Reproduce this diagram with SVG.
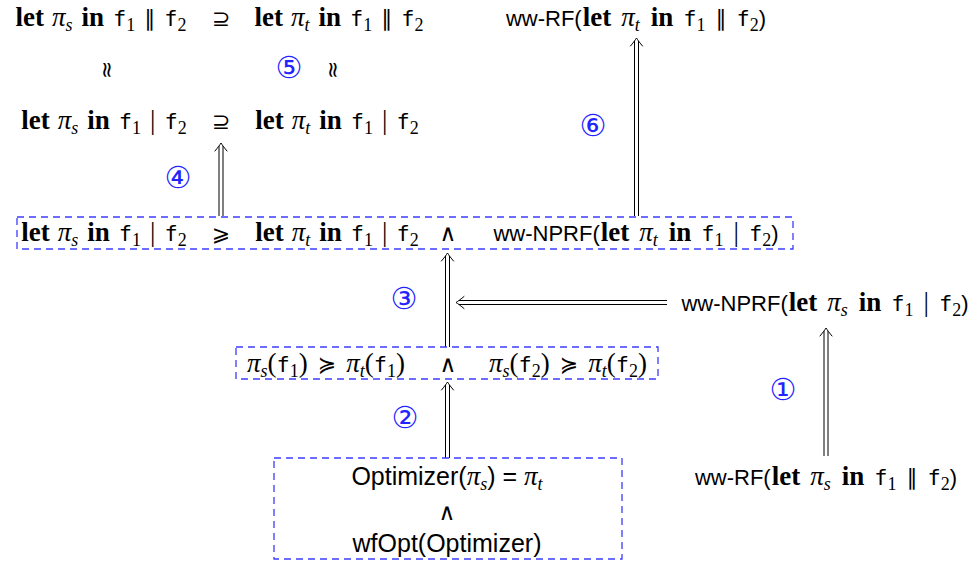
<svg xmlns="http://www.w3.org/2000/svg" width="979" height="565" viewBox="0 0 979 565">
<style>
text { font-family: "Liberation Serif", serif; font-size: 27px; fill: #000; }
.kw { font-weight: bold; }
.pi { font-style: italic; }
.tt { font-family: "DejaVu Sans Mono", monospace; font-size: 22px; }
.sf { font-family: "Liberation Sans", sans-serif; font-size: 25px; }
.sfw { font-family: "Liberation Sans", sans-serif; font-size: 22px; }
.sub { font-size: 18px; }
.sym { font-family: "DejaVu Sans", sans-serif; font-size: 22px; }
.and { font-family: "DejaVu Serif", serif; font-size: 23px; }
.num { font-family: "DejaVu Sans", "Noto Sans CJK SC", sans-serif; font-size: 30px; fill: #2323ff; }
.box { fill: none; stroke: #3c3cff; stroke-width: 1.3; stroke-dasharray: 7 5; }
.ln { stroke: #000; stroke-width: 1; fill: none; }
.hd { stroke: #000; stroke-width: 1; fill: none; stroke-linecap: round; }
</style>
<defs>
<path id="hu" class="hd" d="M-6,8 C-3.5,5 -1.2,2 0,0 C1.2,2 3.5,5 6,8"/>
</defs>

<g id="connectors">
  <line class="ln" x1="219" y1="216" x2="219" y2="146"/>
  <line class="ln" x1="223" y1="216" x2="223" y2="146"/>
  <use href="#hu" x="221" y="143"/>
  <line class="ln" x1="634.5" y1="216" x2="634.5" y2="41"/>
  <line class="ln" x1="638.5" y1="216" x2="638.5" y2="41"/>
  <use href="#hu" x="636.5" y="38"/>
  <line class="ln" x1="445.5" y1="347" x2="445.5" y2="256"/>
  <line class="ln" x1="449.5" y1="347" x2="449.5" y2="256"/>
  <use href="#hu" x="447.5" y="253"/>
  <line class="ln" x1="667" y1="300.5" x2="459" y2="300.5"/>
  <line class="ln" x1="667" y1="304.5" x2="459" y2="304.5"/>
  <use href="#hu" transform="translate(456,302.5) rotate(-90)"/>
  <line class="ln" x1="445.5" y1="458" x2="445.5" y2="385"/>
  <line class="ln" x1="449.5" y1="458" x2="449.5" y2="385"/>
  <use href="#hu" x="447.5" y="382"/>
  <line class="ln" x1="824" y1="456" x2="824" y2="331"/>
  <line class="ln" x1="828" y1="456" x2="828" y2="331"/>
  <use href="#hu" x="826" y="328"/>
</g>

<g id="labels">
  <text class="num" x="289" y="78" text-anchor="middle">⑤</text>
  <text class="num" x="593" y="136" text-anchor="middle">⑥</text>
  <text class="num" x="178" y="188" text-anchor="middle">④</text>
  <text class="num" x="404" y="309" text-anchor="middle">③</text>
  <text class="num" x="405" y="428" text-anchor="middle">②</text>
  <text class="num" x="783" y="400" text-anchor="middle">①</text>
</g>

<g id="top-left">
  <text x="101" y="26" text-anchor="middle"><tspan class="kw">let</tspan><tspan class="pi" dx="8">π</tspan><tspan class="pi sub" dy="5">s</tspan><tspan class="kw" dx="9" dy="-5">in</tspan><tspan class="tt" dx="9">f</tspan><tspan class="sub" dy="5">1</tspan><tspan class="sym" dx="9" dy="-5">∥</tspan><tspan class="tt" dx="9">f</tspan><tspan class="sub" dy="5">2</tspan></text>
  <text x="221" y="26" class="sym" text-anchor="middle">⊇</text>
  <text x="339" y="26" text-anchor="middle"><tspan class="kw">let</tspan><tspan class="pi" dx="8">π</tspan><tspan class="pi sub" dy="5">t</tspan><tspan class="kw" dx="9" dy="-5">in</tspan><tspan class="tt" dx="9">f</tspan><tspan class="sub" dy="5">1</tspan><tspan class="sym" dx="9" dy="-5">∥</tspan><tspan class="tt" dx="9">f</tspan><tspan class="sub" dy="5">2</tspan></text>
  <text class="sym" transform="translate(107,70) rotate(90)" text-anchor="middle" y="7">≈</text>
  <text class="sym" transform="translate(333,70) rotate(90)" text-anchor="middle" y="7">≈</text>
  <text x="104" y="129" text-anchor="middle"><tspan class="kw">let</tspan><tspan class="pi" dx="8">π</tspan><tspan class="pi sub" dy="5">s</tspan><tspan class="kw" dx="9" dy="-5">in</tspan><tspan class="tt" dx="9">f</tspan><tspan class="sub" dy="5">1</tspan><tspan dx="9" dy="-5">|</tspan><tspan class="tt" dx="9">f</tspan><tspan class="sub" dy="5">2</tspan></text>
  <text x="221" y="129" class="sym" text-anchor="middle">⊇</text>
  <text x="337" y="129" text-anchor="middle"><tspan class="kw">let</tspan><tspan class="pi" dx="8">π</tspan><tspan class="pi sub" dy="5">t</tspan><tspan class="kw" dx="9" dy="-5">in</tspan><tspan class="tt" dx="9">f</tspan><tspan class="sub" dy="5">1</tspan><tspan dx="9" dy="-5">|</tspan><tspan class="tt" dx="9">f</tspan><tspan class="sub" dy="5">2</tspan></text>
</g>

<g id="top-right">
  <text x="636" y="26" text-anchor="middle"><tspan class="sfw">ww-RF(</tspan><tspan class="kw" dx="1">let</tspan><tspan class="pi" dx="10">π</tspan><tspan class="pi sub" dy="5">t</tspan><tspan class="kw" dx="11" dy="-5">in</tspan><tspan class="tt" dx="10">f</tspan><tspan class="sub" dy="5">1</tspan><tspan class="sym" dx="10" dy="-5">∥</tspan><tspan class="tt" dx="10">f</tspan><tspan class="sub" dy="5">2</tspan><tspan class="sfw" dy="-5">)</tspan></text>
</g>

<g id="box1">
  <rect class="box" x="17" y="217" width="776" height="32"/>
  <text x="104" y="241" text-anchor="middle"><tspan class="kw">let</tspan><tspan class="pi" dx="8">π</tspan><tspan class="pi sub" dy="5">s</tspan><tspan class="kw" dx="9" dy="-5">in</tspan><tspan class="tt" dx="9">f</tspan><tspan class="sub" dy="5">1</tspan><tspan dx="9" dy="-5">|</tspan><tspan class="tt" dx="9">f</tspan><tspan class="sub" dy="5">2</tspan></text>
  <text x="221" y="241" class="sym" text-anchor="middle">⩾</text>
  <text x="337" y="241" text-anchor="middle"><tspan class="kw">let</tspan><tspan class="pi" dx="8">π</tspan><tspan class="pi sub" dy="5">t</tspan><tspan class="kw" dx="9" dy="-5">in</tspan><tspan class="tt" dx="9">f</tspan><tspan class="sub" dy="5">1</tspan><tspan dx="9" dy="-5">|</tspan><tspan class="tt" dx="9">f</tspan><tspan class="sub" dy="5">2</tspan></text>
  <text x="448" y="241" class="and" text-anchor="middle">∧</text>
  <text x="636" y="241" text-anchor="middle"><tspan class="sfw">ww-NPRF(</tspan><tspan class="kw" dx="1">let</tspan><tspan class="pi" dx="10">π</tspan><tspan class="pi sub" dy="5">t</tspan><tspan class="kw" dx="11" dy="-5">in</tspan><tspan class="tt" dx="10">f</tspan><tspan class="sub" dy="5">1</tspan><tspan dx="10" dy="-5">|</tspan><tspan class="tt" dx="10">f</tspan><tspan class="sub" dy="5">2</tspan><tspan class="sfw" dy="-5">)</tspan></text>
</g>

<g id="nprf-source">
  <text x="825" y="311" text-anchor="middle"><tspan class="sfw">ww-NPRF(</tspan><tspan class="kw" dx="1">let</tspan><tspan class="pi" dx="10">π</tspan><tspan class="pi sub" dy="5">s</tspan><tspan class="kw" dx="11" dy="-5">in</tspan><tspan class="tt" dx="10">f</tspan><tspan class="sub" dy="5">1</tspan><tspan dx="10" dy="-5">|</tspan><tspan class="tt" dx="10">f</tspan><tspan class="sub" dy="5">2</tspan><tspan class="sfw" dy="-5">)</tspan></text>
</g>

<g id="box2">
  <rect class="box" x="236" y="347" width="422" height="32"/>
  <text x="326" y="372" text-anchor="middle"><tspan class="pi">π</tspan><tspan class="pi sub" dy="5">s</tspan><tspan dy="-5">(</tspan><tspan class="tt">f</tspan><tspan class="sub" dy="5">1</tspan><tspan dy="-5">)</tspan><tspan class="sym" dx="10">≽</tspan><tspan class="pi" dx="10">π</tspan><tspan class="pi sub" dy="5">t</tspan><tspan dy="-5">(</tspan><tspan class="tt">f</tspan><tspan class="sub" dy="5">1</tspan><tspan dy="-5">)</tspan></text>
  <text x="448" y="372" class="and" text-anchor="middle">∧</text>
  <text x="568" y="372" text-anchor="middle"><tspan class="pi">π</tspan><tspan class="pi sub" dy="5">s</tspan><tspan dy="-5">(</tspan><tspan class="tt">f</tspan><tspan class="sub" dy="5">2</tspan><tspan dy="-5">)</tspan><tspan class="sym" dx="10">≽</tspan><tspan class="pi" dx="10">π</tspan><tspan class="pi sub" dy="5">t</tspan><tspan dy="-5">(</tspan><tspan class="tt">f</tspan><tspan class="sub" dy="5">2</tspan><tspan dy="-5">)</tspan></text>
</g>

<g id="box3">
  <rect class="box" x="274" y="458" width="348" height="101"/>
  <text y="485" x="447" text-anchor="middle"><tspan class="sf">Optimizer(</tspan><tspan class="pi">π</tspan><tspan class="pi sub" dy="5">s</tspan><tspan class="sf" dy="-5">) = </tspan><tspan class="pi">π</tspan><tspan class="pi sub" dy="5">t</tspan></text>
  <text y="520" x="447" class="and" text-anchor="middle">∧</text>
  <text y="552" x="447" class="sf" text-anchor="middle">wfOpt(Optimizer)</text>
</g>

<g id="wwrf-source">
  <text x="826" y="485" text-anchor="middle"><tspan class="sfw">ww-RF(</tspan><tspan class="kw" dx="1">let</tspan><tspan class="pi" dx="10">π</tspan><tspan class="pi sub" dy="5">s</tspan><tspan class="kw" dx="11" dy="-5">in</tspan><tspan class="tt" dx="10">f</tspan><tspan class="sub" dy="5">1</tspan><tspan class="sym" dx="10" dy="-5">∥</tspan><tspan class="tt" dx="10">f</tspan><tspan class="sub" dy="5">2</tspan><tspan class="sfw" dy="-5">)</tspan></text>
</g>
</svg>
